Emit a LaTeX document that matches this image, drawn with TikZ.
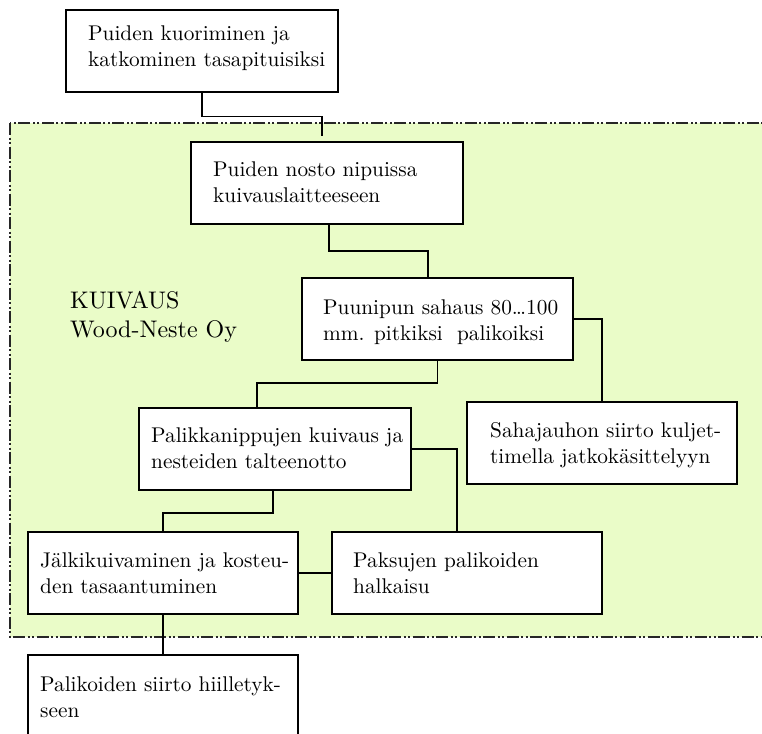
\documentclass[tikz,border=0pt]{standalone}
\usepackage{fontspec}
\setmainfont{lmroman10-regular}[Extension=.otf]
\usetikzlibrary{calc}
\definecolor{zonegreen}{RGB}{234,252,200}
\tikzset{
  box/.style={draw=black, line width=1.5pt, fill=white, rectangle, inner sep=0pt},
  txt/.style={font=\fontsize{21.3}{25.5}\selectfont, align=left, inner sep=0pt, anchor=west},
  lbl/.style={font=\fontsize{24}{29}\selectfont, align=left, inner sep=0pt, anchor=west},
  conn/.style={draw=black, line width=1.5pt},
  zone/.style={draw=black!85, line width=1.5pt, fill=zonegreen,
    dash pattern=on 12pt off 2.5pt on 2pt off 2.5pt on 2pt off 2.5pt}
}
\begin{document}
\begin{tikzpicture}[x=1pt, y=-1pt]
\clip (0,0) rectangle (762,733);
% zone
\path[zone] (10,123) rectangle (775,637);
% boxes (centres from pixel measures)
\node[box, minimum width=272pt, minimum height=82pt] (b1) at (202,51) {};
\node[box, minimum width=272pt, minimum height=82pt] (b2) at (327,183) {};
\node[box, minimum width=271pt, minimum height=82pt] (b3) at (437.5,319) {};
\node[box, minimum width=272pt, minimum height=82pt] (b4) at (275,449) {};
\node[box, minimum width=270pt, minimum height=82pt] (b5) at (602,443) {};
\node[box, minimum width=270pt, minimum height=82pt] (b6) at (467,573) {};
\node[box, minimum width=270pt, minimum height=82pt] (b7) at (163,573) {};
\node[box, minimum width=270pt, minimum height=82pt] (b8) at (163,696) {};
% texts
\node[txt] (t1) at (88,48.6) {\strut Puiden kuoriminen ja\\\strut katkominen tasapituisiksi};
\node[txt] (t2) at (213,184.6) {\strut Puiden nosto nipuissa\\\strut kuivauslaitteeseen};
\node[txt] (t3) at (323,322.6) {\strut Puunipun sahaus 80…100\\\strut mm. pitkiksi\ \ palikoiksi};
\node[txt] (t4) at (151,450.6) {\strut Palikkanippujen kuivaus ja\\\strut nesteiden talteenotto};
\node[txt] (t5) at (490,445.6) {\strut Sahajauhon siirto kuljet-\\\strut timella jatkokäsittelyyn};
\node[txt] (t6) at (353,575.6) {\strut Paksujen palikoiden\\\strut halkaisu};
\node[txt] (t7) at (40,575.6) {\strut Jälkikuivaminen ja kosteu-\\\strut den tasaantuminen};
\node[txt] (t8) at (40,699.6) {\strut Palikoiden siirto hiilletyk-\\\strut seen};
\node[lbl] (zl) at (70,317) {\strut KUIVAUS\\\strut Wood-Neste Oy};
% connectors
\coordinate (c1) at ($(b2.north)+(-5,-5)$);
\draw[conn] (b1.south) -- ++(0,24) -| (c1);
\draw[conn] ($(b2.south)+(2,0)$) -- ++(0,26) -| ($(b3.north)+(-9.5,0)$);
\draw[conn] (b3.south) -- ++(0,22) -| ($(b4.north)+(-18,0)$);
\draw[conn] (b3.east) -| (b5.north);
\draw[conn] (b4.east) -| ($(b6.north)+(-10,0)$);
\draw[conn] ($(b4.south)+(-2,0)$) -- ++(0,22) -| (b7.north);
\draw[conn] (b7.east) -- (b6.west);
\draw[conn] (b7.south) -- (b8.north);
\end{tikzpicture}
\end{document}
